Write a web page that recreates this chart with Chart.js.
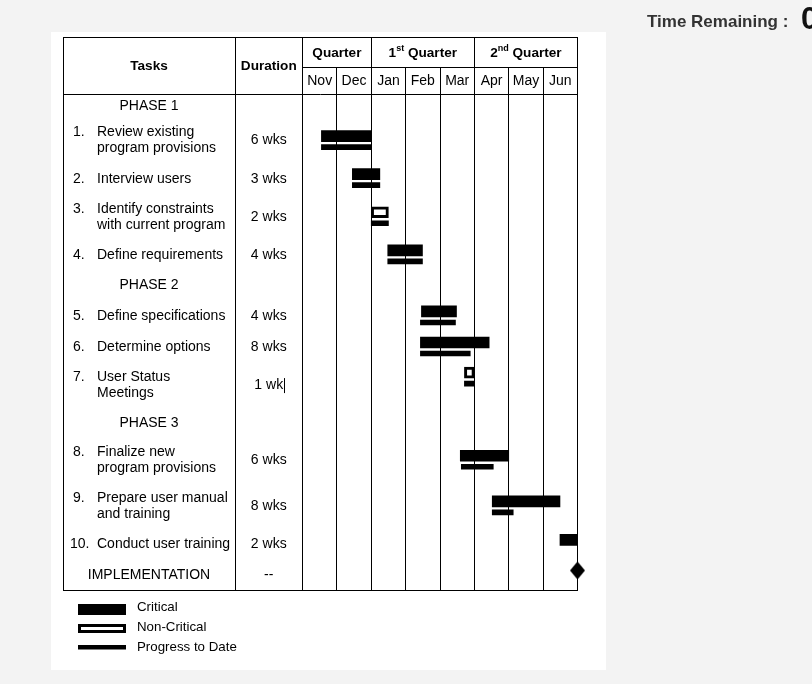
<!DOCTYPE html>
<html><head><meta charset="utf-8">
<script src="https://cdn.jsdelivr.net/npm/chart.js@4.4.1/dist/chart.umd.min.js"></script>
<style>
html,body{margin:0;padding:0;background:#f3f3f3;overflow:hidden;}
#wrap{position:absolute;left:0;top:0;width:812px;height:684px;}
canvas{display:block;}
</style></head><body>
<div id="wrap"><canvas id="c" width="812" height="684"></canvas></div>
<script>
// ---------- data ----------
const months = ['Nov','Dec','Jan','Feb','Mar','Apr','May','Jun'];
const quarterLabels = ['Quarter','1st Quarter','2nd Quarter'];
const quarterSpan = [2,3,3];
const phaseNames = ['PHASE 1','PHASE 2','PHASE 3'];
const taskLines = [
  ['Review existing','program provisions'],
  ['Interview users'],
  ['Identify constraints','with current program'],
  ['Define requirements'],
  ['Define specifications'],
  ['Determine options'],
  ['User Status','Meetings'],
  ['Finalize new','program provisions'],
  ['Prepare user manual','and training'],
  ['Conduct user training']
];
const taskPhase = [0,0,0,0,1,1,1,2,2,2];
const durations = ['6 wks','3 wks','2 wks','4 wks','4 wks','8 wks','1 wk','6 wks','8 wks','2 wks'];
const isCritical = [true,true,false,true,true,true,false,true,true,true];
// months from start of November
const planStart = [0.55,1.45,2.0,2.48,3.46,3.43,4.71,4.59,5.52,7.49];
const planEnd   = [2.0, 2.25,2.5,3.49,4.48,5.43,5.0, 6.0, 7.49,8.0];
const progStart = [0.55,1.45,2.0,2.48,3.43,3.43,4.71,4.62,5.52,null];
const progEnd   = [2.0, 2.25,2.5,3.49,4.45,4.88,5.0, 5.55,6.13,null];
const milestoneLabel = 'IMPLEMENTATION';
const milestoneDuration = '--';
const milestoneMonth = 8;
const legendLabels = ['Critical','Non-Critical','Progress to Date'];

// ---------- layout ----------
const F = '"Liberation Sans", Arial, Helvetica, sans-serif';
const BODY = '14px ' + F;
const barsOnFirstLine = [6];
const rows = [];
taskLines.forEach((lines,i)=>{
  if (i===0 || taskPhase[i]!==taskPhase[i-1]) rows.push({kind:'phase', text:phaseNames[taskPhase[i]]});
  rows.push({kind:'task', i, lines});
});
rows.push({kind:'milestone'});
let acc = 0;
rows.forEach((r,k)=>{
  r.h = r.kind==='phase' ? (k===0?24:30) : r.kind==='milestone' ? 30 : (r.lines.length===2?(r.i===8?46:45):31);
  r.c = acc + r.h/2; acc += r.h;
});
const bodyH = acc;
const taskRow = {};
rows.forEach(r=>{ if (r.kind==='task') taskRow[r.i]=r; });
const milestoneRow = rows[rows.length-1];
function anchor(i){ const r = taskRow[i]; return barsOnFirstLine.includes(i) ? r.c-8 : r.c; }

const critData=[], nonData=[], progData=[];
taskLines.forEach((_,i)=>{
  const p = {x:[planStart[i],planEnd[i]], y:anchor(i)-4.5};
  (isCritical[i]?critData:nonData).push(p);
  if (progStart[i]!==null) progData.push({x:[progStart[i],progEnd[i]], y:anchor(i)+6.5});
});

const diamond = document.createElement('canvas');
diamond.width = 15; diamond.height = 18;
(function(){const d=diamond.getContext('2d');d.fillStyle='#000';d.beginPath();d.moveTo(7.5,0);d.lineTo(15,9);d.lineTo(7.5,18);d.lineTo(0,9);d.closePath();d.fill();})();

function al(p){ return Math.round(p-0.5)+0.5; }

const tablePlugin = {
  id:'table',
  beforeDraw(chart){
    const ctx = chart.ctx;
    ctx.save();
    ctx.fillStyle='#f3f3f3'; ctx.fillRect(0,0,812,684);
    ctx.fillStyle='#ffffff'; ctx.fillRect(51,32,555,638);
    ctx.restore();
  },
  beforeDatasetsDraw(chart){
    const ctx = chart.ctx, xs = chart.scales.x, ys = chart.scales.y, ca = chart.chartArea;
    const px = v => xs.getPixelForValue(v);
    const L=63, T=37, MID=67.5, HB=ca.top, B=ca.bottom, C1=235, R=px(months.length);
    ctx.save();
    ctx.strokeStyle='#000'; ctx.lineWidth=1;
    const line=(x1,y1,x2,y2)=>{ctx.beginPath();ctx.moveTo(x1,y1);ctx.lineTo(x2,y2);ctx.stroke();};
    ctx.strokeRect(al(L), al(T), al(R)-al(L), al(B)-al(T));
    line(al(C1),al(T),al(C1),al(B));
    line(al(px(0)),al(T),al(px(0)),al(B));
    line(al(L),al(HB),al(R),al(HB));
    line(al(px(0)),al(MID),al(R),al(MID));
    for(let i=1;i<months.length;i++) line(al(px(i)),al(MID),al(px(i)),al(HB));
    let q=0;
    quarterSpan.forEach((s,k)=>{ q+=s; if(k<quarterSpan.length-1) line(al(px(q)),al(T),al(px(q)),al(MID)); });

    ctx.fillStyle='#000'; ctx.textBaseline='middle';
    // headers
    ctx.font='bold 13.6px '+F; ctx.textAlign='center';
    const hy = (T+HB)/2 + 0.5;
    ctx.fillText('Tasks', (L+C1)/2, hy);
    ctx.fillText('Duration', (C1+px(0))/2, hy);
    const r1 = (T+MID)/2 + 0.5;
    q=0;
    quarterLabels.forEach((lab,k)=>{
      const cx = (px(q)+px(q+quarterSpan[k]))/2; q+=quarterSpan[k];
      const m = lab.match(/^(\d+)(st|nd|rd|th)(.*)$/);
      if(!m){ ctx.textAlign='center'; ctx.font='bold 13.6px '+F; ctx.fillText(lab,cx,r1); return; }
      ctx.font='bold 13.6px '+F; const w1=ctx.measureText(m[1]).width, w3=ctx.measureText(m[3]).width;
      ctx.font='bold 9px '+F; const w2=ctx.measureText(m[2]).width;
      let x = cx-(w1+w2+w3)/2;
      ctx.textAlign='left';
      ctx.font='bold 13.6px '+F; ctx.fillText(m[1],x,r1); x+=w1;
      ctx.font='bold 9px '+F; ctx.fillText(m[2],x,r1-4); x+=w2;
      ctx.font='bold 13.6px '+F; ctx.fillText(m[3],x,r1);
    });
    ctx.font=BODY; ctx.textAlign='center';
    const r2 = (MID+HB)/2 + 0.5;
    months.forEach((mn,i)=>ctx.fillText(mn,(px(i)+px(i+1))/2,r2));
    // body rows
    const tcx = (L+C1)/2, dcx = (C1+px(0))/2;
    rows.forEach(r=>{
      const y = ys.getPixelForValue(r.c);
      ctx.font=BODY;
      if(r.kind==='phase'){ ctx.textAlign='center'; ctx.fillText(r.text,tcx,y); }
      else if(r.kind==='milestone'){ ctx.textAlign='center'; ctx.fillText(milestoneLabel,tcx,y); ctx.fillText(milestoneDuration,dcx,y); }
      else {
        const n=r.lines.length;
        ctx.textAlign='left';
        const y0 = y - (n-1)*8;
        ctx.fillText((r.i+1)+'.', r.i>=9 ? 70 : 73, y0);
        r.lines.forEach((t,k)=>ctx.fillText(t,97,y0+k*16));
        ctx.textAlign='center';
        ctx.fillText(durations[r.i],dcx,y);
        if(r.i===6){ const w=ctx.measureText(durations[r.i]).width; const cx=Math.round(dcx+w/2+1)+0.5; line(cx,y-7,cx,y+8); }
      }
    });
    ctx.restore();
  },
  afterDraw(chart){
    const ctx = chart.ctx, ds = chart.data.datasets;
    ctx.save();
    // legend
    ctx.fillStyle='#000';
    ctx.fillRect(78,604,48,11);
    ctx.fillRect(78,624,48,9); ctx.fillStyle='#fff'; ctx.fillRect(81,627,42,3);
    ctx.fillStyle='#000'; ctx.fillRect(78,645,48,4.5);
    ctx.font='13.3px '+F; ctx.textAlign='left'; ctx.textBaseline='middle';
    ctx.fillText(ds[0].label,137,607.5);
    ctx.fillText(ds[1].label,137,627.5);
    ctx.fillText(ds[2].label,137,647.5);
    // header text
    ctx.textBaseline='alphabetic';
    ctx.font='bold 17px '+F; ctx.fillStyle='#333';
    ctx.fillText('Time Remaining :',647,27);
    ctx.font='bold 31px '+F; ctx.fillStyle='#111';
    ctx.fillText('0',801,29);
    ctx.restore();
  }
};

new Chart(document.getElementById('c'), {
  type:'bar',
  data:{ datasets:[
    {label:legendLabels[0], data:critData, backgroundColor:'#000', borderWidth:0, barThickness:11, grouped:false},
    {label:legendLabels[1], data:nonData, backgroundColor:'#fff', borderColor:'#000', borderWidth:3, borderSkipped:false, barThickness:11, grouped:false},
    {label:legendLabels[2], data:progData, backgroundColor:'#000', borderWidth:0, barThickness:5, grouped:false},
    {type:'scatter', label:milestoneLabel, data:[{x:milestoneMonth, y:milestoneRow.c-4.5}], pointStyle:diamond, pointRadius:9, clip:false}
  ]},
  options:{
    indexAxis:'y', responsive:false, animation:false, devicePixelRatio:1,
    layout:{padding:{left:302.5, right:234.5, top:94, bottom:94}},
    plugins:{legend:{display:false}, tooltip:{enabled:false}},
    scales:{
      x:{type:'linear', min:0, max:months.length, position:'bottom', offset:false,
         ticks:{display:false, stepSize:1}, grid:{color:'#000', lineWidth:1, drawTicks:false, offset:false}, border:{display:false}},
      y:{type:'linear', min:0, max:bodyH, reverse:true, display:false, offset:false, grid:{offset:false}}
    }
  },
  plugins:[tablePlugin]
});
</script>
</body></html>
